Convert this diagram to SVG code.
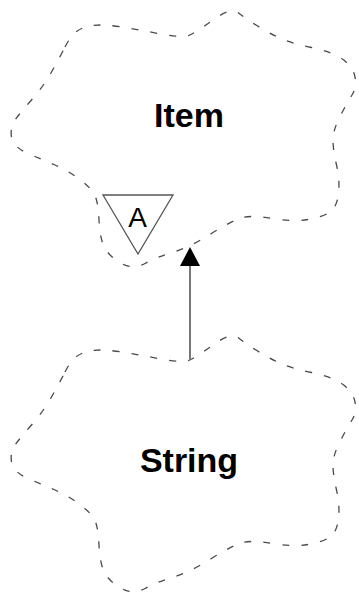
<svg xmlns="http://www.w3.org/2000/svg" width="359" height="596" viewBox="0 0 359 596">
<style>
.cloud{fill:none;stroke:#4a4a4a;stroke-width:1.3;stroke-dasharray:7 12}
.label{font-family:"Liberation Sans",Arial,sans-serif;font-weight:bold;font-size:34px;fill:#000;text-anchor:middle}
.abs{font-family:"Liberation Sans",Arial,sans-serif;font-size:28px;fill:#000;text-anchor:middle}
.tri{fill:#fff;stroke:#555;stroke-width:1.3}
.conn{stroke:#777;stroke-width:2;fill:none}
</style>
<defs>
<path id="cloudShape" d="M65,47 Q70,37 76,32 Q82,27 92.5,25.5 Q103,24 121.5,27 Q140,30 161,34 Q182,38 188.5,35.5 Q195,33 213,20 Q231,7 238,12.5 Q245,18 256,25 Q267,32 278.5,37.5 Q290,43 311.5,47.5 Q333,52 343,59.5 Q353,67 355,77 Q357,87 352,95 Q347,103 340,116.5 Q333,130 333,140 Q333,150 336.5,165 Q340,180 338.5,193.5 Q337,207 330,212 Q323,217 308,219.5 Q293,222 273,218.5 Q253,215 243,217.5 Q233,220 211.5,233.5 Q190,247 173.5,252 Q157,257 145,263.5 Q133,270 121.5,263.5 Q110,257 105,248.5 Q100,240 99,220 Q98,200 94,193.5 Q90,187 78.5,178.5 Q67,170 55,165 Q43,160 28,153.5 Q13,147 11.5,137 Q10,127 15,120 Q20,113 31.5,100 Q43,87 51.5,72 Q60,57 65,47 Z"/>
</defs>
<g id="item">
<use href="#cloudShape" class="cloud"/>
<text class="label" x="189" y="127">Item</text>
<polygon class="tri" points="103,195 173,195 138,254"/>
<text class="abs" x="137.5" y="227">A</text>
</g>
<g id="string">
<use href="#cloudShape" class="cloud" transform="translate(0,325)"/>
<text class="label" x="189" y="472">String</text>
</g>
<g id="connectors">
<line class="conn" x1="190" y1="264" x2="190" y2="360"/>
<polygon points="190,247 180,266 200,266" fill="#000"/>
</g>
</svg>
